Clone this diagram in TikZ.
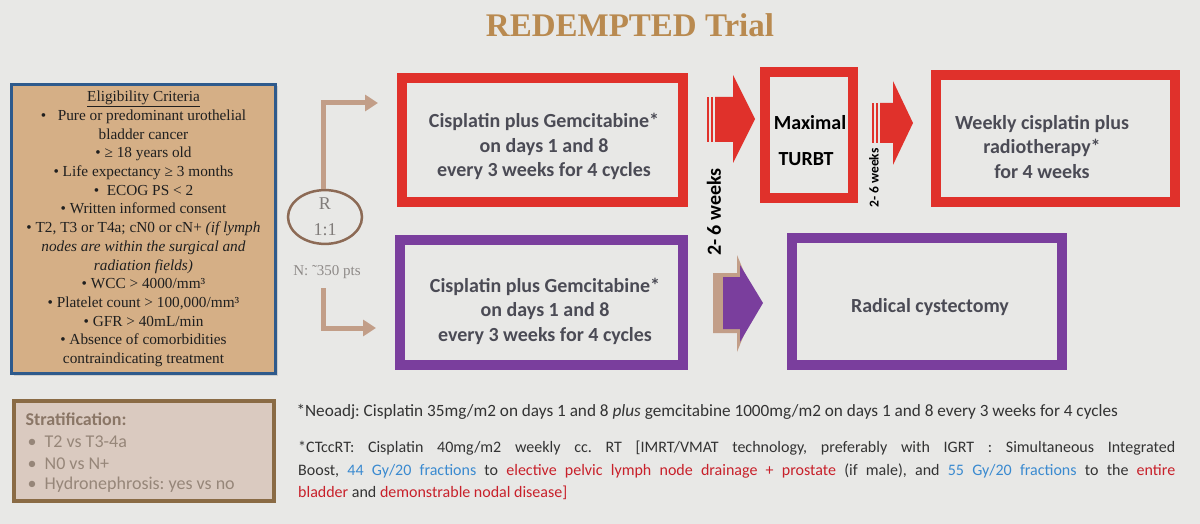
\documentclass[tikz,border=0pt]{standalone}
\usepackage{fontspec}
\setmainfont{Liberation Serif}
\newfontfamily\calfont{Carlito}
\usetikzlibrary{arrows.meta,shapes.geometric,shadows}
\definecolor{bg}{HTML}{E8E8E6}
\definecolor{titlec}{HTML}{B98A50}
\definecolor{eligfill}{HTML}{D5AF86}
\definecolor{eligborder}{HTML}{2E5A8C}
\definecolor{redc}{HTML}{E0312B}
\definecolor{purplec}{HTML}{7A3E9D}
\definecolor{tanc}{HTML}{C29E88}
\definecolor{circc}{HTML}{8C6A55}
\definecolor{stratfill}{HTML}{DACAC0}
\definecolor{stratborder}{HTML}{8A6B45}
\definecolor{boxtextc}{HTML}{4B4B55}
\definecolor{graytext}{HTML}{8E8A88}
\definecolor{strathead}{HTML}{8A7666}
\definecolor{stratitem}{HTML}{968679}
\definecolor{fnblue}{HTML}{3A8AD0}
\definecolor{fnred}{HTML}{C8202A}
\definecolor{fntext}{HTML}{333333}
\frenchspacing
\begin{document}
\begin{tikzpicture}[x=1pt,y=-1pt,
  shadowed/.style={drop shadow={shadow xshift=2pt,shadow yshift=-2pt,opacity=.25}},
  redbox/.style={draw=redc,line width=10pt,fill=bg,shadowed,inner sep=0pt},
  purplebox/.style={draw=purplec,line width=10pt,fill=bg,shadowed,inner sep=0pt},
  boxtext/.style={text=boxtextc,align=center,font=\calfont\bfseries\fontsize{20}{24.5}\selectfont},
  tanarrow/.style={draw=tanc,line width=5pt,-{Triangle[length=13pt,width=16pt]}},
  weeks/.style={rotate=90,font=\calfont\bfseries,text=black},
  stratitemstyle/.style={anchor=west,text=stratitem,font=\calfont\fontsize{18}{21}\selectfont},
]
\fill[bg] (0,0) rectangle (1200,524);
\useasboundingbox (0,0) rectangle (1200,524);

% title
\node[text=titlec,font=\bfseries\fontsize{33}{36}\selectfont] (title) at (630,25) {REDEMPTED Trial};

% eligibility
\node[draw=eligborder,line width=3pt,fill=eligfill,shadowed,minimum width=264,minimum height=289,inner sep=0pt] (elig) at (143.5,229) {};
\node[align=center,text=black!88,font=\fontsize{15.3}{18.7}\selectfont] (eligt) at (143.5,229) {%
\underline{Eligibility Criteria}\\
•\ \ \ Pure or predominant urothelial\\
bladder cancer\\
• ≥ 18 years old\\
• Life expectancy ≥ 3 months\\
•\ \ ECOG PS < 2\\
• Written informed consent\\
• T2, T3 or T4a; cN0 or cN+ \textit{(if lymph}\\
\textit{nodes are within the surgical and}\\
\textit{radiation fields)}\\
• WCC > 4000/mm³\\
• Platelet count > 100,000/mm³\\
• GFR > 40mL/min\\
• Absence of comorbidities\\
contraindicating treatment};

% randomisation
\node[ellipse,draw=circc,line width=2.5pt,minimum width=74,minimum height=52,inner sep=0pt,align=center,text=graytext!90!black,font=\fontsize{18}{26}\selectfont] (rand) at (325,217) {R\\1:1};
\node[text=graytext,font=\fontsize{15}{18}\selectfont] (npts) at (327,272) {N: ˜350 pts};
\coordinate (t1) at (378,103);
\coordinate (b0) at (323,288);
\coordinate (t2) at (376,328);
\draw[tanarrow] ([xshift=-2pt]rand.north) |- (t1);
\draw[tanarrow] (b0) |- (t2);

% boxes
\node[redbox,minimum width=281,minimum height=124] (neo1) at (542.5,140) {};
\node[boxtext] (neo1t) at (544,146.5) {Cisplatin plus Gemcitabine*\\on days 1 and 8\\every 3 weeks for 4 cycles};
\node[purplebox,minimum width=283,minimum height=125] (neo2) at (541.5,302.5) {};
\node[boxtext] (neo2t) at (545,311) {Cisplatin plus Gemcitabine*\\on days 1 and 8\\every 3 weeks for 4 cycles};
\node[redbox,minimum width=88,minimum height=126] (turbt) at (809,135) {};
\node[text=black,font=\calfont\bfseries\fontsize{20}{24}\selectfont] (maxt) at (810,123) {Maximal};
\node[text=black,font=\calfont\bfseries\fontsize{20}{24}\selectfont] (turbtt) at (806,159) {TURBT};
\node[redbox,minimum width=239,minimum height=127] (crt) at (1055.5,138.5) {};
\node[boxtext] (crtt) at (1042,147) {Weekly cisplatin plus\\radiotherapy*\\for 4 weeks};
\node[purplebox,minimum width=270,minimum height=127] (rc) at (927,301.5) {};
\node[boxtext] (rct) at (930,307) {Radical cystectomy};

% block arrows
\fill[redc] (707,97) rectangle (709,142);
\fill[redc] (711,97) rectangle (713,142);
\fill[redc] (715,97) -- (733,97) -- (733,75) -- (755,119) -- (733,163) -- (733,142) -- (715,142) -- cycle;
\fill[redc] (872,103) rectangle (874,143);
\fill[redc] (876,103) rectangle (878,143);
\fill[redc] (880,103) -- (893,103) -- (893,81) -- (913,123) -- (893,165) -- (893,143) -- (880,143) -- cycle;
\fill[tanc] (713,273) -- (737,273) -- (737,255) -- (757,303) -- (737,352) -- (737,333) -- (713,333) -- cycle;
\fill[purplec] (723,277) -- (740,277) -- (740,265) -- (763,303) -- (740,342) -- (740,329) -- (723,329) -- cycle;

\node[weeks,font=\calfont\bfseries\fontsize{20}{24}\selectfont] (w1) at (714,212) {2- 6 weeks};
\node[weeks,font=\calfont\bfseries\fontsize{13.5}{16}\selectfont] (w2) at (874,178) {2- 6 weeks};

% stratification
\node[draw=stratborder,line width=4pt,fill=stratfill,minimum width=260,minimum height=100,inner sep=0pt] (strat) at (144,451) {};
\node[anchor=west,text=strathead,font=\calfont\bfseries\fontsize{18}{21}\selectfont] (sh) at (22,419) {Stratification:};
\node[stratitemstyle] (s1) at (24,442) {•\ \ T2 vs T3-4a};
\node[stratitemstyle] (s2) at (24,463.5) {•\ \ N0 vs N+};
\node[stratitemstyle] (s3) at (24,485) {•\ \ Hydronephrosis: yes vs no};

% footnotes
\node[anchor=west,text=fntext,font=\calfont\fontsize{17.2}{20}\selectfont] (fn1) at (293,412) {*Neoadj: Cisplatin 35mg/m2 on days 1 and 8 \textit{plus} gemcitabine 1000mg/m2 on days 1 and 8 every 3 weeks for 4 cycles};
\node[anchor=north west,align=left,inner sep=0pt,text=fntext,font=\calfont\fontsize{16}{22.5}\selectfont] (fn2) at (298,441) {%
\makebox[877pt][s]{*CTccRT: Cisplatin 40mg/m2 weekly cc. RT [IMRT/VMAT technology, preferably with IGRT : Simultaneous Integrated}\\
\makebox[877pt][s]{Boost, \textcolor{fnblue}{44 Gy/20 fractions} to \textcolor{fnred}{elective pelvic lymph node drainage + prostate} (if male), and \textcolor{fnblue}{55 Gy/20 fractions} to the \textcolor{fnred}{entire}}\\
\textcolor{fnred}{bladder} and \textcolor{fnred}{demonstrable nodal disease]}};
\end{tikzpicture}
\end{document}
